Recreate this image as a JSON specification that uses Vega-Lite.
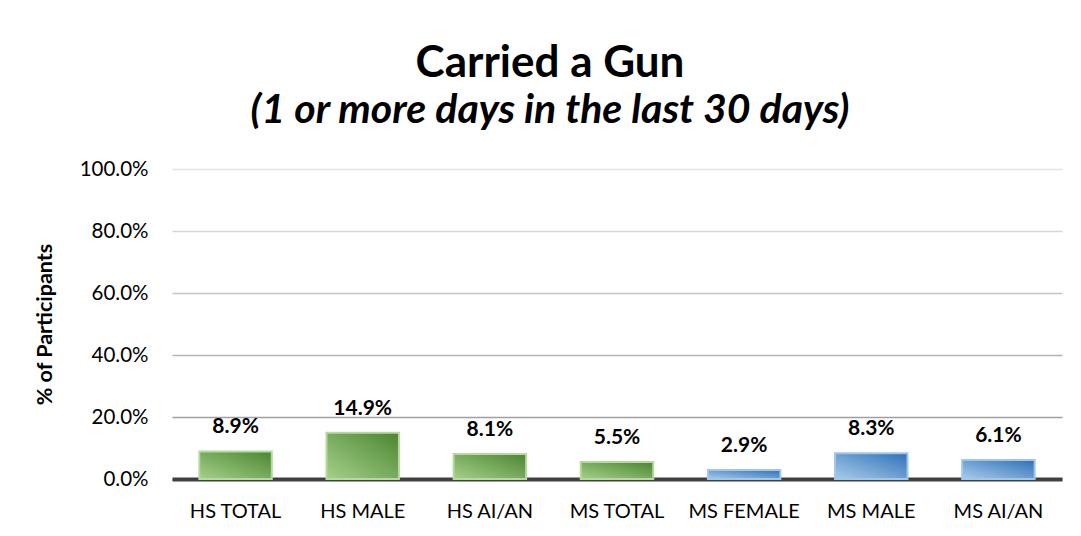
{
  "$schema": "https://vega.github.io/schema/vega-lite/v6.json",
  "width": 890,
  "height": 310,
  "autosize": "none",
  "padding": {"left": 172, "top": 169, "right": 19, "bottom": 57},
  "background": "white",
  "title": {
    "text": "Carried a Gun",
    "subtitle": "(1 or more days in the last 30 days)",
    "anchor": "middle",
    "dx": -67,
    "offset": 28,
    "font": "Lato",
    "fontSize": 44,
    "fontWeight": "bold",
    "color": "#000000",
    "subtitleFont": "Lato",
    "subtitleFontSize": 41,
    "subtitleFontWeight": "bold",
    "subtitleFontStyle": "italic",
    "subtitleColor": "#000000",
    "subtitlePadding": 5
  },
  "data": {
    "values": [
      {"category": "HS TOTAL", "group": "HS", "value": 0.089, "label": "8.9%"},
      {"category": "HS MALE", "group": "HS", "value": 0.149, "label": "14.9%"},
      {"category": "HS AI/AN", "group": "HS", "value": 0.081, "label": "8.1%"},
      {"category": "MS TOTAL", "group": "HS", "value": 0.055, "label": "5.5%"},
      {"category": "MS FEMALE", "group": "MS", "value": 0.029, "label": "2.9%"},
      {"category": "MS MALE", "group": "MS", "value": 0.083, "label": "8.3%"},
      {"category": "MS AI/AN", "group": "MS", "value": 0.061, "label": "6.1%"}
    ]
  },
  "config": {
    "view": {"stroke": null},
    "font": "Lato"
  },
  "encoding": {
    "x": {
      "field": "category",
      "type": "nominal",
      "sort": null,
      "scale": {"paddingInner": 0.43, "paddingOuter": 0.215},
      "axis": {
        "title": null,
        "labelAngle": 0,
        "labelFont": "Lato",
        "labelFontSize": 20,
        "labelColor": "#000000",
        "labelBaseline": "alphabetic",
        "labelPadding": 38,
        "ticks": false,
        "tickSize": 0,
        "domainColor": "#404040",
        "domainWidth": 4,
        "grid": false
      }
    },
    "y": {
      "field": "value",
      "type": "quantitative",
      "scale": {"domain": [0, 1], "nice": false},
      "axis": {
        "title": "% of Participants",
        "titleFont": "Lato",
        "titleFontSize": 21.5,
        "titleFontWeight": "bold",
        "titleColor": "#000000",
        "titleAngle": -90,
        "titleX": -127,
        "titleY": 155,
        "titleBaseline": "middle",
        "titleAlign": "center",
        "values": [0, 0.2, 0.4, 0.6, 0.8, 1],
        "format": ".1%",
        "labelFont": "Lato",
        "labelFontSize": 20.5,
        "labelColor": "#000000",
        "labelPadding": 24,
        "ticks": false,
        "tickSize": 0,
        "domain": false,
        "grid": true,
        "gridWidth": 1.5,
        "gridColor": {
          "condition": [
            {"test": "datum.value >= 0.9", "value": "#e2e2e2"},
            {"test": "datum.value >= 0.7", "value": "#d6d6d6"},
            {"test": "datum.value >= 0.5", "value": "#c6c6c6"},
            {"test": "datum.value >= 0.3", "value": "#b3b3b3"}
          ],
          "value": "#a0a0a0"
        }
      }
    }
  },
  "layer": [
    {
      "transform": [{"filter": "datum.group == 'HS'"}],
      "mark": {
        "type": "bar",
        "stroke": "#b6d99f",
        "strokeWidth": 2,
        "color": {
          "gradient": "linear",
          "x1": 0, "y1": 1, "x2": 1, "y2": 0,
          "stops": [
            {"offset": 0, "color": "#a5d08a"},
            {"offset": 1, "color": "#4b8631"}
          ]
        }
      }
    },
    {
      "transform": [{"filter": "datum.group == 'MS'"}],
      "mark": {
        "type": "bar",
        "stroke": "#a2c6ea",
        "strokeWidth": 2,
        "color": {
          "gradient": "linear",
          "x1": 0, "y1": 1, "x2": 1, "y2": 0,
          "stops": [
            {"offset": 0, "color": "#a9cbec"},
            {"offset": 1, "color": "#2f72b6"}
          ]
        }
      }
    },
    {
      "mark": {
        "type": "text",
        "font": "Lato",
        "fontSize": 21,
        "fontWeight": "bold",
        "color": "#000000",
        "baseline": "alphabetic",
        "dy": -18
      },
      "encoding": {
        "text": {"field": "label", "type": "nominal"}
      }
    }
  ]
}
